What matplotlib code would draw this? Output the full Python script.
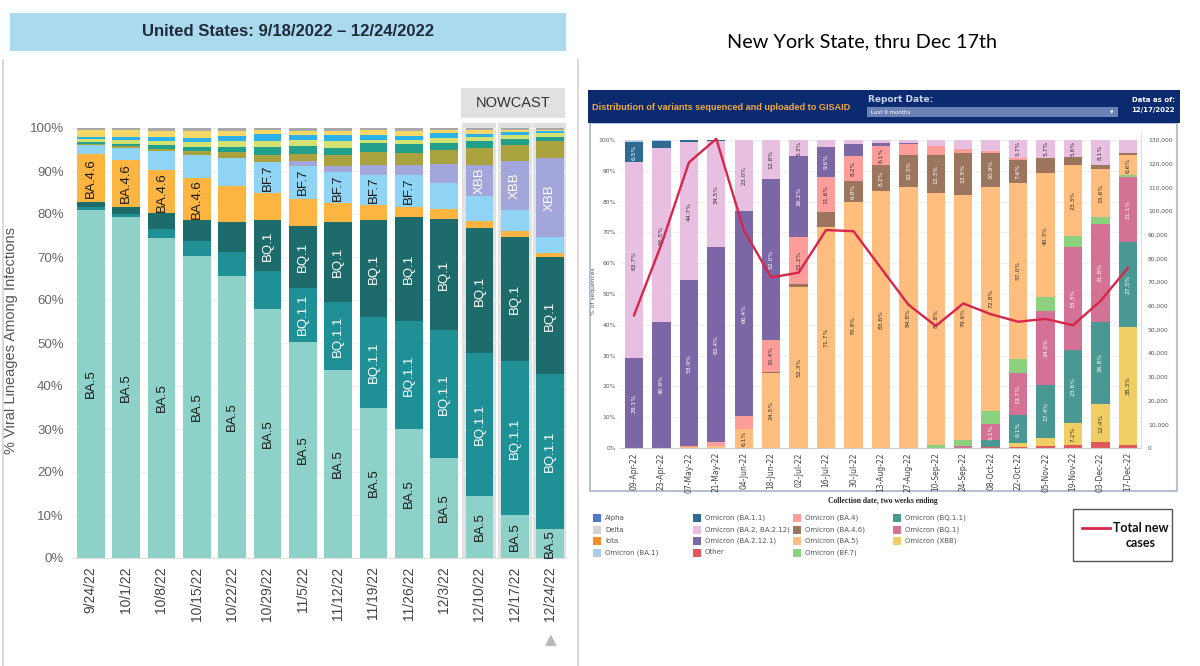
import numpy as np
import matplotlib
matplotlib.use("Agg")
import matplotlib.pyplot as plt
from matplotlib.patches import Rectangle
from matplotlib.lines import Line2D

# ---------------- left chart: US nowcast (percent of lineages) ----------------
us_weeks = ['9/24/22', '10/1/22', '10/8/22', '10/15/22', '10/22/22', '10/29/22', '11/5/22',
            '11/12/22', '11/19/22', '11/26/22', '12/3/22', '12/10/22', '12/17/22', '12/24/22']
us_ba5    = [81.0, 79.2, 74.5, 70.3, 65.6, 57.9, 50.3, 43.7, 35.0, 29.9, 23.2, 14.4, 10.0, 6.7]
us_bq11   = [0.7, 0.8, 1.9, 3.4, 5.6, 8.8, 12.6, 15.9, 21.1, 25.2, 29.8, 33.2, 35.7, 36.0]
us_bq1    = [1.0, 1.6, 3.8, 4.9, 7.0, 11.9, 14.3, 18.5, 22.4, 24.1, 25.8, 29.1, 29.0, 27.4]
us_ba46   = [11.3, 11.0, 10.0, 9.7, 8.3, 6.2, 6.4, 4.4, 3.6, 2.5, 2.4, 1.7, 1.3, 0.8]
us_bf7    = [2.0, 2.8, 4.5, 5.4, 6.5, 7.3, 7.6, 7.3, 7.0, 7.3, 6.1, 5.8, 4.9, 3.8]
us_xbb    = [0, 0, 0, 0, 0, 0, 1.1, 1.4, 2.3, 2.4, 4.3, 7.3, 11.4, 18.3]
us_bn1    = [0.2, 0.3, 0.5, 0.9, 1.4, 1.7, 1.7, 2.5, 3.0, 2.9, 3.3, 3.8, 3.8, 3.9]
us_ba275  = [0.5, 0.6, 0.8, 1.0, 1.2, 1.8, 1.8, 1.6, 2.0, 2.0, 1.7, 1.7, 1.3, 1.1]
us_ba2752 = [0.7, 1.0, 1.0, 1.2, 1.4, 1.3, 1.3, 1.6, 0.9, 0.9, 1.1, 0.9, 1.0, 0.8]
us_bf11   = [0.6, 0.5, 0.8, 0.9, 1.2, 1.7, 1.3, 1.4, 1.1, 1.0, 1.1, 0.8, 0.7, 0.4]
us_ba526  = [1.5, 1.7, 1.6, 1.6, 1.2, 0.9, 1.0, 1.1, 1.2, 1.2, 0.7, 0.8, 0.4, 0.3]
us_other  = [0.5, 0.5, 0.6, 0.7, 0.6, 0.5, 0.6, 0.6, 0.4, 0.6, 0.5, 0.5, 0.5, 0.5]

us_names = ['BA.5', 'BQ.1.1', 'BQ.1', 'BA.4.6', 'BF.7', 'XBB', 'BN.1', 'BA.2.75',
            'BA.2.75.2', 'BF.11', 'BA.5.2.6', 'Other']
us_series = [us_ba5, us_bq11, us_bq1, us_ba46, us_bf7, us_xbb, us_bn1, us_ba275,
             us_ba2752, us_bf11, us_ba526, us_other]
us_colors = ['#8ed1c8', '#1e9096', '#1d6b6a', '#fbb540', '#8fd4f5', '#a3a6db', '#a9a23f',
             '#23a08b', '#d2e170', '#2cb1e8', '#f7d867', '#a8a8a8']
# which bars carry an in-bar label for a lineage
us_labels = {'BA.5': range(0, 14), 'BA.4.6': range(0, 4), 'BF.7': range(5, 10),
             'BQ.1': range(5, 14), 'BQ.1.1': range(6, 14), 'XBB': range(11, 14)}
us_label_white = ['BQ.1', 'BQ.1.1', 'XBB']
nowcast = [11, 12, 13]

# ---------------- right chart: New York State (GISAID) ----------------
ny_weeks = ['09-Apr-22', '23-Apr-22', '07-May-22', '21-May-22', '04-Jun-22', '18-Jun-22',
            '02-Jul-22', '16-Jul-22', '30-Jul-22', '13-Aug-22', '27-Aug-22', '10-Sep-22',
            '24-Sep-22', '08-Oct-22', '22-Oct-22', '05-Nov-22', '19-Nov-22', '03-Dec-22',
            '17-Dec-22']
ny_other  = [0, 0, 0, 0, 0, 0, 0, 0, 0, 0, 0, 0, 0, 0.3, 0.4, 0.8, 1.0, 1.8, 1.0]
ny_xbb    = [0, 0, 0, 0, 0, 0, 0, 0, 0, 0, 0, 0, 0, 0, 1.2, 2.4, 7.2, 12.4, 38.3]
ny_bq11   = [0, 0, 0, 0, 0, 0, 0, 0, 0, 0, 0, 0, 0, 2.4, 9.1, 17.4, 23.6, 26.8, 27.5]
ny_bq1    = [0, 0, 0, 0, 0, 0, 0, 0, 0, 0, 0, 0, 0.5, 5.1, 13.7, 24.0, 33.3, 31.8, 21.1]
ny_bf7    = [0, 0, 0, 0, 0, 0, 0, 0, 0, 0, 0, 1.0, 2.2, 4.3, 4.6, 4.3, 3.6, 2.2, 0.7]
ny_ba5    = [0, 0, 0.3, 0.8, 6.1, 24.5, 52.3, 71.7, 79.8, 83.6, 84.8, 81.8, 79.6, 72.8,
             57.0, 40.3, 23.3, 15.6, 6.6]
ny_ba46   = [0, 0, 0, 0, 0, 0.3, 1.0, 4.8, 6.8, 8.2, 10.3, 12.3, 13.5, 10.9, 7.6, 4.8, 2.4,
             1.3, 0.6]
ny_ba4    = [0, 0, 0.3, 1.0, 4.4, 10.4, 15.2, 11.6, 8.2, 6.1, 3.5, 2.8, 1.3, 0.6, 0.7, 0.3,
             0, 0, 0]
ny_ba2121 = [29.1, 40.9, 53.9, 63.4, 66.4, 52.0, 26.2, 9.6, 3.8, 1.2, 0.5, 0, 0, 0, 0, 0,
             0, 0, 0]
ny_ba2    = [63.7, 56.5, 44.7, 34.5, 23.0, 12.8, 5.3, 2.3, 1.4, 0.9, 0.9, 2.1, 2.9, 3.6,
             5.7, 5.7, 5.6, 8.1, 4.2]
ny_ba11   = [6.5, 2.2, 0.8, 0.3, 0.1, 0, 0, 0, 0, 0, 0, 0, 0, 0, 0, 0, 0, 0, 0]
ny_ba1    = [0.5, 0.4, 0, 0, 0, 0, 0, 0, 0, 0, 0, 0, 0, 0, 0, 0, 0, 0, 0]
ny_delta  = [0.2, 0, 0, 0, 0, 0, 0, 0, 0, 0, 0, 0, 0, 0, 0, 0, 0, 0, 0]
ny_cases  = [56000, 86000, 120500, 130500, 92000, 72000, 74000, 92000, 91500, 76000,
             60500, 51500, 61000, 56500, 53300, 54500, 51800, 62000, 76000]

ny_series = [ny_other, ny_xbb, ny_bq11, ny_bq1, ny_bf7, ny_ba5, ny_ba46, ny_ba4,
             ny_ba2121, ny_ba2, ny_ba11, ny_ba1, ny_delta]
ny_colors = ['#e15759', '#f1ce63', '#499894', '#d37295', '#8cd17d', '#ffbe7d', '#9c755f',
             '#ff9d9a', '#7b67a6', '#e8bfe0', '#2f6a92', '#a9cdeb', '#d4d4d4']
ny_white = [False, False, True, True, False, False, True, False, True, False, True, False,
            False]

legend_cols = [['Alpha', 'Delta', 'Iota', 'Omicron (BA.1)'],
               ['Omicron (BA.1.1)', 'Omicron (BA.2, BA.2.12)', 'Omicron (BA.2.12.1)', 'Other'],
               ['Omicron (BA.4)', 'Omicron (BA.4.6)', 'Omicron (BA.5)', 'Omicron (BF.7)'],
               ['Omicron (BQ.1.1)', 'Omicron (BQ.1)', 'Omicron (XBB)']]
legend_colors = [['#4e79c8', '#d4d4d4', '#f28e2b', '#a9cdeb'],
                 ['#2f6a92', '#e8bfe0', '#7b67a6', '#e15759'],
                 ['#ff9d9a', '#9c755f', '#ffbe7d', '#8cd17d'],
                 ['#499894', '#d37295', '#f1ce63']]

W, H = 1200, 666
fig = plt.figure(figsize=(12, 6.66), dpi=100)
fig.patch.set_facecolor('white')


def fx(x):
    return x / W


def fy(y):
    return 1 - y / H


def px_rect(x0, y0, x1, y1, **kw):
    r = Rectangle((fx(x0), fy(y1)), (x1 - x0) / W, (y1 - y0) / H,
                  transform=fig.transFigure, **kw)
    fig.patches.append(r)
    return r


def px_text(x, y, s, **kw):
    return fig.text(fx(x), fy(y), s, **kw)


# ===== left panel =====
px_rect(10, 13, 566, 51, facecolor='#abd9ee', edgecolor='none')
px_text(288, 32, 'United States: 9/18/2022 \u2013 12/24/2022', ha='center', va='center',
        fontsize=12, fontweight='bold', color='#1f2a3a', family='Liberation Sans')
fig.lines.append(Line2D([fx(3), fx(3)], [fy(60), fy(666)], transform=fig.transFigure,
                        color='#d3d3d3', lw=1.2))
fig.lines.append(Line2D([fx(578), fx(578)], [fy(60), fy(666)], transform=fig.transFigure,
                        color='#d3d3d3', lw=1.2))

px_rect(461, 88, 565, 118, facecolor='#e1e1e1', edgecolor='none')
px_text(513, 103, 'NOWCAST', ha='center', va='center', fontsize=10.5, color='#333333',
        family='Liberation Sans')
px_text(551, 640, '\u25B2', ha='center', va='center', fontsize=11, color='#b8b8b8')

top_pct = 101.2
ax1 = fig.add_axes([fx(72), fy(558), 494 / W, (top_pct * 4.3) / H])
x1 = np.arange(len(us_weeks))
ax1.bar([x1[i] for i in nowcast], [top_pct] * len(nowcast), width=0.96, color='#e1e1e1',
        zorder=0)
bottom = np.zeros(len(us_weeks))
for name, vals, col in zip(us_names, us_series, us_colors):
    vals = np.array(vals)
    ax1.bar(x1, vals, bottom=bottom, width=0.78, color=col, zorder=2, linewidth=0)
    if name in us_labels:
        for i in us_labels[name]:
            ax1.text(x1[i], bottom[i] + vals[i] / 2, name, rotation=90, ha='center',
                     va='center', fontsize=9.5, family='Liberation Sans', zorder=3,
                     color='white' if name in us_label_white else '#1a1a1a')
    bottom += vals

ax1.set_xlim(-0.53, 13.45)
ax1.set_ylim(0, top_pct)
ax1.set_yticks(np.arange(0, 101, 10))
ax1.set_yticklabels([f'{v}%' for v in range(0, 101, 10)], fontsize=9.5, color='#666666',
                    family='Liberation Sans')
ax1.set_xticks(x1)
ax1.set_xticklabels(us_weeks, rotation=90, fontsize=10, color='#444444',
                    family='Liberation Sans')
ax1.tick_params(length=0, pad=6)
ax1.grid(axis='y', color='#f0f0f0', lw=0.8, zorder=0)
ax1.set_axisbelow(True)
for s in ['top', 'right', 'left']:
    ax1.spines[s].set_visible(False)
ax1.spines['bottom'].set_color('#dddddd')
ax1.set_ylabel('% Viral Lineages Among Infections', fontsize=10.5, color='#555555',
               family='Liberation Sans', labelpad=8)

# ===== right panel =====
px_text(862, 42, 'New York State, thru Dec 17th', ha='center', va='center', fontsize=14.3,
        color='black', family='Lato')
px_rect(590, 123, 1177, 491, facecolor='white', edgecolor='#a7b5cc', lw=1.2, zorder=-1)
px_rect(588, 90, 1180, 123, facecolor='#0b2a6f', edgecolor='none')
px_text(592, 107, 'Distribution of variants sequenced and uploaded to GISAID', ha='left',
        va='center', fontsize=6.6, fontweight='bold', color='#f2a93b',
        family='Liberation Sans')
px_text(868, 99, 'Report Date:', ha='left', va='center', fontsize=6.5, fontweight='bold',
        color='#c9d3ea', family='DejaVu Sans')
px_rect(867, 107, 1118, 117, facecolor='#6c82b6', edgecolor='none')
px_text(871, 112, 'Last 9 months', ha='left', va='center', fontsize=4, color='white',
        family='DejaVu Sans')
px_text(1112, 112, '\u25BE', ha='center', va='center', fontsize=5, color='white')
px_text(1153, 100, 'Data as of:', ha='center', va='center', fontsize=5, fontweight='bold',
        color='white', family='DejaVu Sans')
px_text(1153, 110, '12/17/2022', ha='center', va='center', fontsize=5, fontweight='bold',
        color='white', family='DejaVu Sans')

ytop = 102
ax2 = fig.add_axes([fx(620), fy(448), 521 / W, (ytop * 3.08) / H])
ax2.patch.set_alpha(0)
x2 = np.arange(len(ny_weeks))
bottom = np.zeros(len(ny_weeks))
for vals, col, white in zip(ny_series, ny_colors, ny_white):
    vals = np.array(vals)
    ax2.bar(x2, vals, bottom=bottom, width=0.67, color=col, zorder=2, linewidth=0)
    for i in x2:
        if vals[i] >= 5:
            ax2.text(x2[i], bottom[i] + vals[i] / 2, f'{vals[i]:.1f}%', rotation=90,
                     ha='center', va='center', fontsize=4.3, zorder=3,
                     color='white' if white else '#333333', family='DejaVu Sans')
    bottom += vals

ax2.set_xlim(-0.51, 18.48)
ax2.set_ylim(0, ytop)
ax2.set_yticks(np.arange(0, 101, 10))
ax2.set_yticklabels([f'{v}%' for v in range(0, 101, 10)], fontsize=4.3, color='#555555')
ax2.set_xticks(x2)
ax2.set_xticklabels(ny_weeks, rotation=90, fontsize=5.5, color='#444444',
                    family='DejaVu Sans')
ax2.tick_params(length=0, pad=3)
ax2.grid(axis='y', color='#eeeeee', lw=0.6, zorder=0)
ax2.set_axisbelow(True)
for s in ['top', 'left']:
    ax2.spines[s].set_visible(False)
ax2.spines['right'].set_color('#dddddd')
ax2.spines['bottom'].set_color('#cccccc')
ax2.set_ylabel('% of sequences', fontsize=4.3, color='#555555', labelpad=2)

ax3 = ax2.twinx()
ax3.plot(x2, ny_cases, color='#d6264c', lw=1.7, zorder=5)
ax3.set_ylim(0, ytop * 1300)
ax3.set_yticks(np.arange(0, 130001, 10000))
ax3.set_yticklabels([f'{v:,}' for v in range(0, 130001, 10000)], fontsize=4.3,
                    color='#555555')
ax3.tick_params(length=0, pad=5)
for s in ax3.spines.values():
    s.set_visible(False)

px_text(883, 501, 'Collection date, two weeks ending', ha='center', va='center',
        fontsize=5.5, fontweight='bold', color='#222222', family='Liberation Serif')

col_x = [597, 697, 797, 897]
row_y = [518, 529.5, 541, 552.5]
for cx, names, cols in zip(col_x, legend_cols, legend_colors):
    for ry, name, col in zip(row_y, names, cols):
        px_rect(cx - 4, ry - 4, cx + 4, ry + 4, facecolor=col, edgecolor='none')
        px_text(cx + 8, ry, name, ha='left', va='center', fontsize=5.0, color='#555555',
                family='DejaVu Sans')

px_rect(1073, 509, 1172, 561, facecolor='white', edgecolor='#555555', lw=1.0)
fig.lines.append(Line2D([fx(1082), fx(1110)], [fy(528), fy(528)], transform=fig.transFigure,
                        color='#d6264c', lw=2))
px_text(1141, 528, 'Total new', ha='center', va='center', fontsize=9, fontweight='bold',
        color='#111111', family='Lato')
px_text(1141, 543, 'cases', ha='center', va='center', fontsize=9, fontweight='bold',
        color='#111111', family='Lato')

fig.savefig('out.png', dpi=100)
